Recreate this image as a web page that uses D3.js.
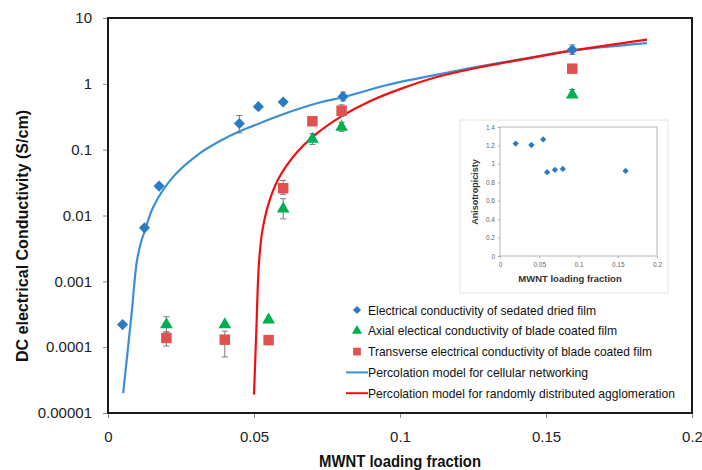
<!DOCTYPE html>
<html>
<head>
<meta charset="utf-8">
<script src="https://cdn.jsdelivr.net/npm/d3@7"></script>
<style>
  body { margin: 0; background: #fff; }
  svg { display: block; font-family: "Liberation Sans", Arial, sans-serif; }
</style>
</head>
<body>
<div class="container"></div>
<script>
const WIDTH = 702;
const HEIGHT = 470;

// axis ticks
var xTicks = [0, 0.05, 0.1, 0.15, 0.2];
var xTickLabels = ["0", "0.05", "0.1", "0.15", "0.2"];
var yTicks = [0.00001, 0.0001, 0.001, 0.01, 0.1, 1, 10];
var yTickLabels = ["0.00001", "0.0001", "0.001", "0.01", "0.1", "1", "10"];

// sedated dried film (blue diamonds)
var sedX = [0.005, 0.0125, 0.0175, 0.045, 0.0515, 0.06, 0.0805, 0.159];
var sedY = [0.00022, 0.0065, 0.028, 0.25, 0.45, 0.53, 0.64, 3.3];
var sedLo = [null, null, null, 0.18, null, null, 0.55, 2.8];
var sedHi = [null, null, null, 0.33, null, null, 0.75, 3.9];

// axial, blade coated (green triangles)
var axialX = [0.02, 0.04, 0.055, 0.06, 0.07, 0.08, 0.159];
var axialY = [0.00022, 0.00022, 0.00026, 0.0126, 0.145, 0.22, 0.68];
var axialLo = [0.00017, null, null, 0.0089, 0.12, 0.19, 0.62];
var axialHi = [0.00029, null, null, 0.018, 0.175, 0.26, 0.82];

// transverse, blade coated (red squares)
var transX = [0.02, 0.04, 0.055, 0.06, 0.07, 0.08, 0.159];
var transY = [0.000138, 0.00013, 0.000128, 0.026, 0.27, 0.39, 1.7];
var transLo = [0.000104, 0.000071, null, 0.021, 0.24, 0.32, null];
var transHi = [0.00017, 0.000175, null, 0.034, 0.30, 0.48, null];

// model curves
var cellX = [0.0052, 0.0081, 0.0098, 0.0112, 0.0127, 0.0155, 0.0223, 0.0314, 0.0383, 0.0451, 0.0497,
             0.0611, 0.0725, 0.0807, 0.0952, 0.1066, 0.1237, 0.142, 0.159, 0.1846];
var cellY = [0.00002, 0.00033, 0.0019, 0.0038, 0.006, 0.0135, 0.0386, 0.088, 0.135, 0.19, 0.23,
             0.36, 0.52, 0.63, 0.95, 1.22, 1.72, 2.4, 3.2, 4.15];
var aggX = [0.05, 0.0508, 0.0517, 0.0529, 0.0554, 0.0588, 0.0645, 0.0702, 0.0799, 0.0895,
            0.1009, 0.1123, 0.1237, 0.142, 0.159, 0.1846];
var aggY = [0.000019, 0.00018, 0.0019, 0.006, 0.0173, 0.039, 0.089, 0.158, 0.32, 0.54,
            0.86, 1.26, 1.65, 2.35, 3.2, 4.7];

// inset: anisotropicity
var insetX = [0.02, 0.04, 0.055, 0.06, 0.07, 0.08, 0.16];
var insetY = [1.22, 1.205, 1.265, 0.91, 0.935, 0.945, 0.923];
var insetXTicks = [0, 0.05, 0.1, 0.15, 0.2];
var insetYTicks = [0, 0.2, 0.4, 0.6, 0.8, 1, 1.2, 1.4];

var legendNames = [
    "Electrical conductivity of sedated dried film",
    "Axial electical conductivity of blade coated film",
    "Transverse electrical conductivity of blade coated film",
    "Percolation model for cellular networking",
    "Percolation model for randomly distributed agglomeration"
];

var BLUE = "#2b7bc4";
var GREEN = "#00b050";
var RED_SQ = "#e0514f";
var BLUE_LINE = "#3b8fd6";
var RED_LINE = "#f01010";

var zip = function (xs, ys, lo, hi) {
    return xs.map(function (d, i) {
        return { x: d, y: ys[i], lo: lo ? lo[i] : null, hi: hi ? hi[i] : null };
    });
};

// rotated square = excel style diamond
var marker = function (kind, size) {
    if (kind === "diamond") return { d: d3.symbol(d3.symbolSquare, size)(), rot: 45 };
    if (kind === "triangle") return { d: d3.symbol(d3.symbolTriangle, size)(), rot: 0 };
    return { d: d3.symbol(d3.symbolSquare, size)(), rot: 0 };
};

var svg = d3.select(".container")
    .append("svg")
    .attr("width", WIDTH)
    .attr("height", HEIGHT);

var xScale = d3.scaleLinear().domain([0, 0.2]).range([108, 692]);
var yScale = d3.scaleLog().domain([0.00001, 10]).range([413, 18]);

// axes
var yAxis = svg.append("g")
    .attr("transform", "translate(108,0)")
    .call(d3.axisLeft(yScale).tickValues(yTicks).tickSize(5).tickPadding(11)
        .tickFormat(function (d, i) { return yTickLabels[i]; }));
var xAxis = svg.append("g")
    .attr("transform", "translate(0,413)")
    .call(d3.axisBottom(xScale).tickValues(xTicks).tickSize(5).tickPadding(13)
        .tickFormat(function (d, i) { return xTickLabels[i]; }));
[xAxis, yAxis].forEach(function (a) {
    a.select(".domain").remove();
    a.selectAll("line").attr("stroke", "#8c8c8c");
    a.selectAll("text").attr("font-size", 15).attr("fill", "#222")
        .attr("font-family", "Liberation Sans, Arial, sans-serif");
});

// frame
svg.append("rect")
    .attr("x", 108).attr("y", 18)
    .attr("width", 584).attr("height", 395)
    .attr("fill", "none").attr("stroke", "#1a1a1a").attr("stroke-width", 2);

// inset chart
var inset = svg.append("g");
inset.append("rect")
    .attr("x", 460).attr("y", 120).attr("width", 208).attr("height", 173)
    .attr("fill", "#fff").attr("stroke", "#e4e4e4");
var ix = d3.scaleLinear().domain([0, 0.2]).range([500, 657]);
var iy = d3.scaleLinear().domain([0, 1.4]).range([256, 127]);
inset.append("rect")
    .attr("x", 500).attr("y", 127).attr("width", 157).attr("height", 129)
    .attr("fill", "none").attr("stroke", "#b5b5b5");
var iyAxis = inset.append("g").attr("transform", "translate(500,0)")
    .call(d3.axisLeft(iy).tickValues(insetYTicks).tickSize(2).tickPadding(3)
        .tickFormat(function (d) { return d3.format("~g")(d); }));
var ixAxis = inset.append("g").attr("transform", "translate(0,256)")
    .call(d3.axisBottom(ix).tickValues(insetXTicks).tickSize(2).tickPadding(4)
        .tickFormat(function (d) { return d3.format("~g")(d); }));
[iyAxis, ixAxis].forEach(function (a) {
    a.select(".domain").remove();
    a.selectAll("line").attr("stroke", "#aaa");
    a.selectAll("text").attr("font-size", 6.5).attr("fill", "#666");
});
var im = marker("diamond", 20);
inset.selectAll(".idot")
    .data(zip(insetX, insetY))
    .enter().append("path")
    .attr("d", im.d)
    .attr("transform", function (d) { return "translate(" + ix(d.x) + "," + iy(d.y) + ") rotate(45)"; })
    .attr("fill", BLUE);
inset.append("text")
    .attr("transform", "translate(478,192) rotate(-90)")
    .attr("text-anchor", "middle").attr("font-size", 9).attr("font-weight", "bold")
    .attr("fill", "#333")
    .text("Anisotropicisty");
inset.append("text")
    .attr("x", 570).attr("y", 282)
    .attr("text-anchor", "middle").attr("font-size", 9.5).attr("font-weight", "bold")
    .attr("fill", "#333")
    .text("MWNT loading fraction");

// model curves
var line = d3.line()
    .x(function (d) { return xScale(d.x); })
    .y(function (d) { return yScale(d.y); })
    .curve(d3.curveCatmullRom.alpha(0.5));
svg.append("path").datum(zip(cellX, cellY))
    .attr("d", line).attr("fill", "none")
    .attr("stroke", BLUE_LINE).attr("stroke-width", 2.2);
svg.append("path").datum(zip(aggX, aggY))
    .attr("d", line).attr("fill", "none")
    .attr("stroke", RED_LINE).attr("stroke-width", 2.2);

// error bars + markers
var drawSeries = function (data, kind, size, color) {
    var g = svg.append("g");
    var eb = g.selectAll(".err")
        .data(data.filter(function (d) { return d.lo !== null; }))
        .enter().append("g").attr("stroke", "#7a7a7a").attr("stroke-width", 1);
    eb.append("line")
        .attr("x1", function (d) { return xScale(d.x); })
        .attr("x2", function (d) { return xScale(d.x); })
        .attr("y1", function (d) { return yScale(d.lo); })
        .attr("y2", function (d) { return yScale(d.hi); });
    ["lo", "hi"].forEach(function (k) {
        eb.append("line")
            .attr("x1", function (d) { return xScale(d.x) - 3; })
            .attr("x2", function (d) { return xScale(d.x) + 3; })
            .attr("y1", function (d) { return yScale(d[k]); })
            .attr("y2", function (d) { return yScale(d[k]); });
    });
    var m = marker(kind, size);
    g.selectAll(".pt")
        .data(data)
        .enter().append("path")
        .attr("d", m.d)
        .attr("transform", function (d) {
            return "translate(" + xScale(d.x) + "," + yScale(d.y) + ") rotate(" + m.rot + ")";
        })
        .attr("fill", color);
};
drawSeries(zip(sedX, sedY, sedLo, sedHi), "diamond", 62, BLUE);
drawSeries(zip(axialX, axialY, axialLo, axialHi), "triangle", 70, GREEN);
drawSeries(zip(transX, transY, transLo, transHi), "square", 110, RED_SQ);

// legend
var legendWidths = [228, 249, 284, 220, 307];
var legendKinds = ["diamond", "triangle", "square", "line", "line"];
var legendColors = [BLUE, GREEN, RED_SQ, BLUE_LINE, RED_LINE];
var legendSizes = [34, 45, 60, 0, 0];
var lg = svg.append("g");
legendNames.forEach(function (name, i) {
    var yy = 310 + i * 20.8;
    if (legendKinds[i] === "line") {
        lg.append("line").attr("x1", 346).attr("x2", 368).attr("y1", yy).attr("y2", yy)
            .attr("stroke", legendColors[i]).attr("stroke-width", 2);
    } else {
        var m = marker(legendKinds[i], legendSizes[i]);
        lg.append("path").attr("d", m.d)
            .attr("transform", "translate(357," + yy + ") rotate(" + m.rot + ")")
            .attr("fill", legendColors[i]);
    }
    lg.append("text")
        .attr("x", 368).attr("y", yy + 4.5)
        .attr("font-size", 13.5).attr("fill", "#111")
        .attr("textLength", legendWidths[i]).attr("lengthAdjust", "spacingAndGlyphs")
        .text(name);
});

// axis titles
svg.append("text")
    .attr("transform", "translate(28,236) rotate(-90)")
    .attr("text-anchor", "middle").attr("font-size", 16).attr("font-weight", "bold")
    .attr("fill", "#111")
    .attr("textLength", 252).attr("lengthAdjust", "spacingAndGlyphs")
    .text("DC electrical Conductivity (S/cm)");
svg.append("text")
    .attr("x", 400).attr("y", 467)
    .attr("text-anchor", "middle").attr("font-size", 17).attr("font-weight", "bold")
    .attr("fill", "#111")
    .attr("textLength", 162).attr("lengthAdjust", "spacingAndGlyphs")
    .text("MWNT loading fraction");
</script>
</body>
</html>
